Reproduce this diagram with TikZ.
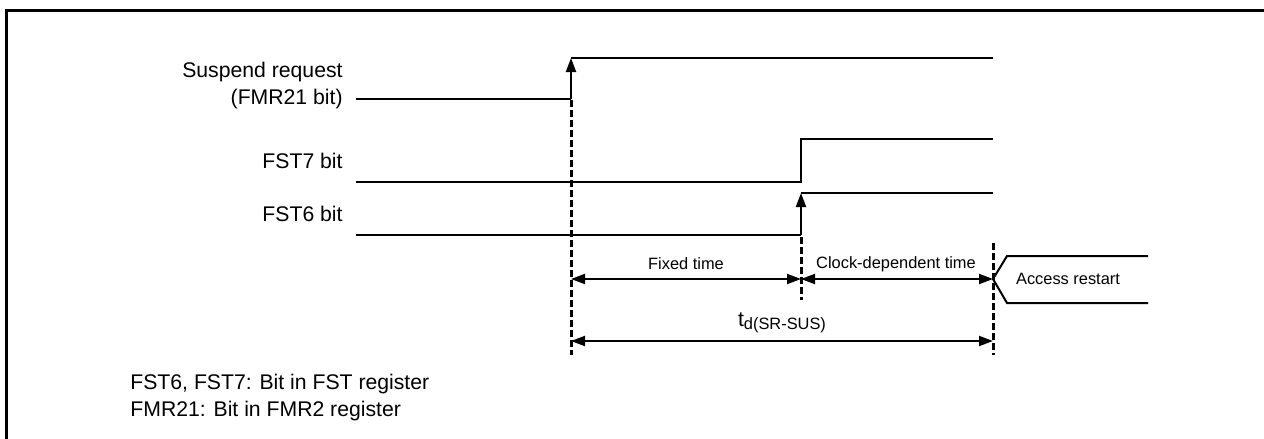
\documentclass[tikz,border=0pt]{standalone}
\usepackage{fontspec}
\setmainfont{Liberation Sans}
\usetikzlibrary{arrows.meta}

\begin{document}
\begin{tikzpicture}[x=0.5pt, y=-0.5pt,
      signal/.style = {line width=1pt},
      edgeline/.style = {line width=1.5pt, dash pattern=on 3.5pt off 1.5pt},
      rise/.style = {line width=1pt, -{Triangle[length=7pt,width=5pt]}},
      span/.style = {line width=1pt,
        {Triangle[length=7pt,width=5pt]}-{Triangle[length=7pt,width=5pt]}},
      every node/.style = {inner sep=0pt, font=\fontsize{10.6}{13.5}\selectfont},
      small/.style = {font=\fontsize{8.2}{10}\selectfont}]
  \useasboundingbox (0,0) rectangle (1264,439);
  % frame
  \draw[line width=1.5pt] (6.5,439) -- (6.5,10.5) -- (1264,10.5);

  % time points
  \coordinate (req lo) at (571,99);
  \coordinate (req hi) at (571,58);
  \coordinate (fst lo) at (801,235);
  \coordinate (fst hi) at (801,193);
  \coordinate (end) at (993,279);

  % signal names
  \node[anchor=east, align=right] (req name) at (343,85.5) {Suspend request\\(FMR21 bit)};
  \node[anchor=east] (fst7 name) at (343,161) {FST7 bit};
  \node[anchor=east] (fst6 name) at (343,214) {FST6 bit};

  % waveforms
  \draw[signal] (356,99) -- (req lo);
  \draw[rise] (req lo) -- (req hi);
  \draw[signal] (req hi) -- (993,58);
  \draw[signal] (356,182) -- (801,182) -- (801,139) -- (993,139);
  \draw[signal] (356,235) -- (fst lo);
  \draw[rise] (fst lo) -- (fst hi);
  \draw[signal] (fst hi) -- (993,193);

  % edges
  \draw[edgeline] (571,100) -- (571,355);
  \draw[edgeline] (801,237) -- (801,300);
  \draw[edgeline] (993,243) -- (993,355);

  % times
  \coordinate (a) at (571,279);
  \coordinate (b) at (801,279);
  \draw[span] (a) -- (b);
  \draw[span] (b) -- (end);
  \node[small] (fixed) at (686,264) {Fixed time};
  \node[small] (clock) at (896,264) {Clock-dependent time};
  \draw[span] (571,341) -- (993,341);
  \node[small] (td) at (782,323)
    {{\fontsize{10.6}{12}\selectfont t}\raisebox{-0.4ex}{d(SR-SUS)}};

  % access restart
  \draw[signal] (1148,256) -- (1007,256) -- (end) -- (1007,303) -- (1148,303);
  \node[small] (restart) at (1068,279) {Access restart};

  % notes
  \node[anchor=west, align=left] (notes) at (130,397.5)
    {FST6, FST7: Bit in FST register\\FMR21: Bit in FMR2 register};
\end{tikzpicture}
\end{document}
